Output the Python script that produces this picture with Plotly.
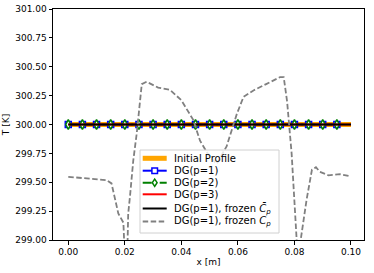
import plotly.graph_objects as go

x_profile = [0.0, 0.1]
T_profile = [300.0, 300.0]

x_markers = [round(0.005 * i, 3) for i in range(20)]
T_p1 = [300.0] * 20
T_p2 = [300.0] * 20
x_p3 = [0.0, 0.1]
T_p3 = [300.0, 300.0]
x_frozen_bar = [0.0, 0.1]
T_frozen_bar = [300.0, 300.0]

x_frozen = [0.0, 0.0136, 0.0153, 0.0177, 0.0195, 0.0200, 0.0204, 0.0209, 0.0212, 0.0218,
            0.0230, 0.0242, 0.0254, 0.0260, 0.0277, 0.0318, 0.0360, 0.0400, 0.0442, 0.0466,
            0.0500, 0.0525, 0.0560, 0.0596, 0.0620, 0.0655, 0.0700, 0.0749, 0.0762, 0.0774,
            0.0790, 0.0809, 0.0815, 0.0822, 0.0843, 0.0862, 0.0876, 0.0890, 0.0920, 0.0961, 0.1000]
T_frozen = [299.547, 299.518, 299.49, 299.23, 299.15, 298.9, 298.6, 298.9, 299.23, 299.37,
            299.69, 299.92, 300.21, 300.35, 300.37, 300.32, 300.30, 300.21, 300.04, 299.86,
            299.72, 299.66, 299.81, 300.09, 300.24, 300.295, 300.35, 300.41, 300.41, 300.20,
            299.75, 299.0, 298.7, 299.0, 299.35, 299.61, 299.63, 299.59, 299.56, 299.57, 299.55]

legend_labels = ["Initial Profile", "DG(p=1)", "DG(p=2)", "DG(p=3)",
                 "DG(p=1), frozen <i>C̄</i><sub><i>p</i></sub>",
                 "DG(p=1), frozen <i>C</i><sub><i>p</i></sub>"]

# figure geometry (pixels)
W, H = 374, 273
ML, MR, MT, MB = 53, 10, 9, 33
PW, PH = W - ML - MR, H - MT - MB


def px(xp):
    return (xp - ML) / PW


def py(yp):
    return (H - MB - yp) / PH


GRAY_DASH = "5.5px,2.5px"
GREEN_DASH = "9px,3px,2px,3px"

styles = [
    dict(color="#FFA500", width=5, dash="solid", marker=None),
    dict(color="blue", width=2, dash="solid", marker="square"),
    dict(color="green", width=2, dash=GREEN_DASH, marker="diamond"),
    dict(color="red", width=2, dash="solid", marker=None),
    dict(color="black", width=2, dash="solid", marker=None),
    dict(color="gray", width=1.8, dash=GRAY_DASH, marker=None),
]

fig = go.Figure()
fig.add_trace(go.Scatter(x=x_profile, y=T_profile, mode="lines", name=legend_labels[0],
                         line=dict(color="#FFA500", width=5)))
fig.add_trace(go.Scatter(x=x_markers, y=T_p1, mode="lines+markers", name=legend_labels[1],
                         line=dict(color="blue", width=2),
                         marker=dict(symbol="square", size=6, color="white",
                                     line=dict(color="blue", width=1.5))))
fig.add_trace(go.Scatter(x=x_markers, y=T_p2, mode="lines+markers", name=legend_labels[2],
                         line=dict(color="green", width=2, dash=GREEN_DASH),
                         marker=dict(symbol="diamond-tall", size=7, color="white",
                                     line=dict(color="green", width=1.5))))
fig.add_trace(go.Scatter(x=x_p3, y=T_p3, mode="lines", name=legend_labels[3],
                         line=dict(color="red", width=2)))
fig.add_trace(go.Scatter(x=x_frozen_bar, y=T_frozen_bar, mode="lines", name=legend_labels[4],
                         line=dict(color="black", width=2)))
fig.add_trace(go.Scatter(x=x_frozen, y=T_frozen, mode="lines", name=legend_labels[5],
                         line=dict(color="gray", width=1.8, dash=GRAY_DASH)))

# custom matplotlib-like legend
shapes = [dict(type="rect", xref="paper", yref="paper",
               x0=px(140), x1=px(279), y0=py(233), y1=py(150),
               fillcolor="rgba(255,255,255,0.8)", line=dict(color="#d0d0d0", width=1),
               layer="above")]
annotations = []
entry_y = [158.3, 170.7, 182.7, 194.3, 208.5, 221.5]
hx0, hx1 = 142.7, 166.7
hxm = (hx0 + hx1) / 2
for lab, st, yy in zip(legend_labels, styles, entry_y):
    shapes.append(dict(type="line", xref="paper", yref="paper",
                       x0=px(hx0), x1=px(hx1), y0=py(yy), y1=py(yy),
                       line=dict(color=st["color"], width=st["width"], dash=st["dash"]),
                       layer="above"))
    if st["marker"] == "square":
        s = 2.8
        shapes.append(dict(type="rect", xref="paper", yref="paper",
                           x0=px(hxm - s), x1=px(hxm + s), y0=py(yy + s), y1=py(yy - s),
                           fillcolor="white", line=dict(color=st["color"], width=1.5),
                           layer="above"))
    elif st["marker"] == "diamond":
        w, h = 2.4, 3.6
        path = (f"M {px(hxm - w)} {py(yy)} L {px(hxm)} {py(yy - h)} "
                f"L {px(hxm + w)} {py(yy)} L {px(hxm)} {py(yy + h)} Z")
        shapes.append(dict(type="path", xref="paper", yref="paper", path=path,
                           fillcolor="white", line=dict(color=st["color"], width=1.5),
                           layer="above"))
    annotations.append(dict(x=px(173), y=py(yy), xref="paper", yref="paper",
                            text=lab, showarrow=False, xanchor="left", yanchor="middle",
                            font=dict(size=10, color="black"), borderpad=0))

axis_common = dict(showline=True, linecolor="black", linewidth=1, mirror=True,
                   ticks="outside", ticklen=3.5, tickcolor="black", showgrid=False,
                   zeroline=False, tickfont=dict(size=9, color="black"), automargin=False)
fig.update_xaxes(range=[-0.0054, 0.1046], tickvals=[0, 0.02, 0.04, 0.06, 0.08, 0.10],
                 tickformat=".2f", title=dict(text="x [m]", font=dict(size=9), standoff=2),
                 **axis_common)
fig.update_yaxes(range=[299.0, 301.0], tickvals=[299 + 0.25 * i for i in range(9)],
                 tickformat=".2f", title=dict(text="T [K]", font=dict(size=9), standoff=4),
                 **axis_common)
fig.update_layout(
    width=W, height=H,
    margin=dict(l=ML, r=MR, t=MT, b=MB),
    plot_bgcolor="white", paper_bgcolor="white",
    font=dict(family="DejaVu Sans", size=9, color="black"),
    showlegend=False,
    shapes=shapes, annotations=annotations,
)
fig.write_html("out.html", config={"displayModeBar": False},
               post_script="document.body.style.margin='0px';document.body.style.padding='0px';")
